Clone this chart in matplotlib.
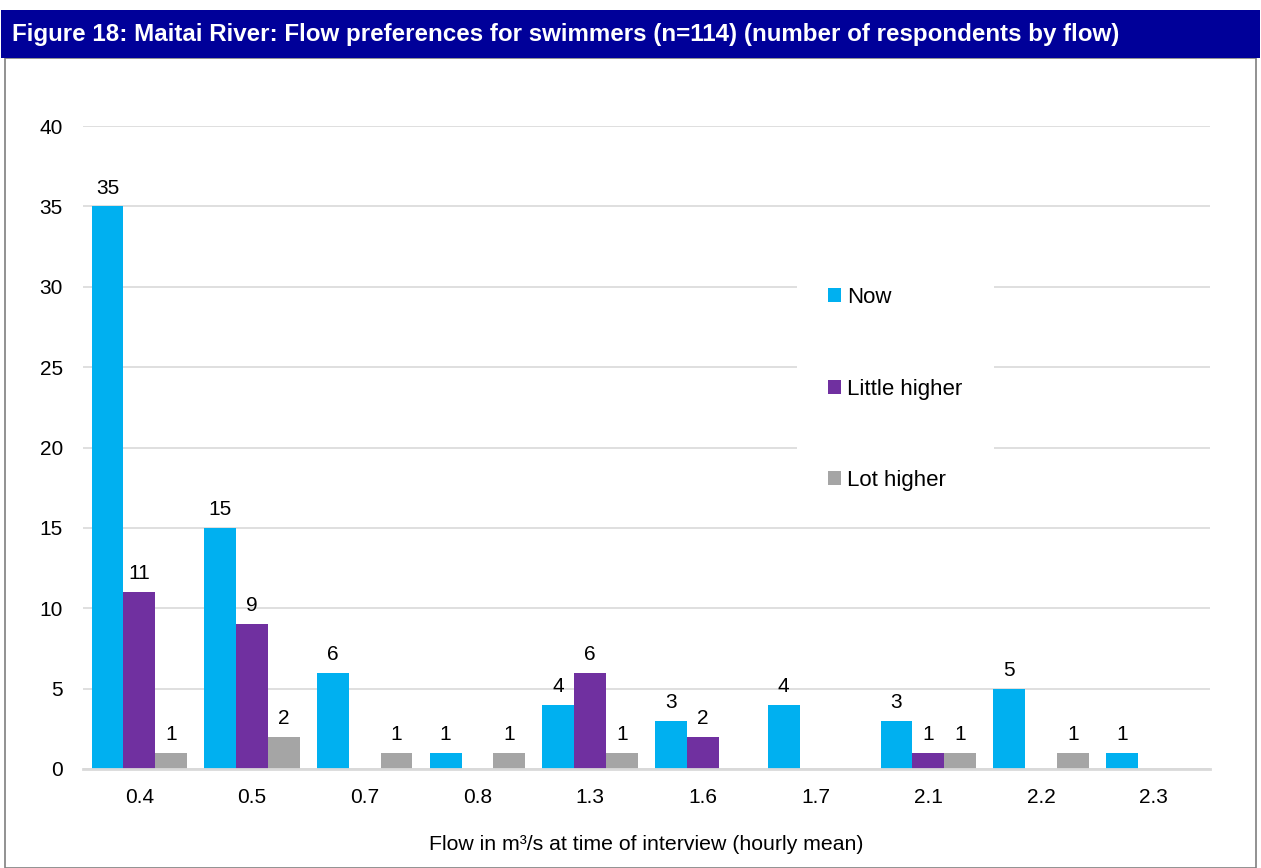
import numpy as np
import matplotlib.pyplot as plt
from matplotlib.patches import Rectangle

plt.rcParams['font.family'] = ['Liberation Sans', 'DejaVu Sans']

flows = ['0.4', '0.5', '0.7', '0.8', '1.3', '1.6', '1.7', '2.1', '2.2', '2.3']
now = [35, 15, 6, 1, 4, 3, 4, 3, 5, 1]
little = [11, 9, 0, 0, 6, 2, 0, 1, 0, 0]
lot = [1, 2, 1, 1, 1, 0, 0, 1, 1, 0]

series = [('Now', now, '#00B0F0'),
          ('Little higher', little, '#7030A0'),
          ('Lot higher', lot, '#A5A5A5')]

W, H = 1261, 868
fig = plt.figure(figsize=(W / 100, H / 100), dpi=100)

# title bar and frame
fig.patches.append(Rectangle((5 / W, 0), 1251 / W, 1 - 58 / H, transform=fig.transFigure,
                             facecolor='none', edgecolor='#7F7F7F', lw=1.2, zorder=0))
fig.patches.append(Rectangle((1 / W, 1 - 58 / H), 1259 / W, 48 / H, transform=fig.transFigure,
                             facecolor='#000099', edgecolor='none', zorder=1))
fig.text(12 / W, 1 - 34 / H, 'Figure 18: Maitai River: Flow preferences for swimmers (n=114) '
         '(number of respondents by flow)', color='white', fontsize=17.35,
         fontweight='bold', va='center', ha='left')

ax = fig.add_axes([83 / W, 1 - 769 / H, (1210 - 83) / W, (769 - 126) / H])
x = np.arange(len(flows))
bw = 0.282
for i, (name, vals, col) in enumerate(series):
    bars = ax.bar(x + (i - 1) * bw, vals, bw, color=col, label=name, zorder=2)
    for b, v in zip(bars, vals):
        if v > 0:
            ax.text(b.get_x() + b.get_width() / 2, v + 0.55, str(v),
                    ha='center', va='bottom', fontsize=15)

ax.set_xlim(-0.5, len(flows) - 0.5)
ax.set_ylim(0, 40)
ax.set_yticks(range(0, 41, 5))
ax.set_xticks(x)
ax.set_xticklabels(flows)
ax.tick_params(length=0, labelsize=15)
ax.tick_params(axis='x', pad=14)
ax.tick_params(axis='y', pad=14.5)
ax.grid(axis='y', color='#D9D9D9', lw=1.2, zorder=0)
for s in ['left', 'right', 'top']:
    ax.spines[s].set_visible(False)
ax.spines['bottom'].set_color('#D9D9D9')
ax.spines['bottom'].set_linewidth(2)
ax.set_xlabel('Flow in m³/s at time of interview (hourly mean)', fontsize=15.3, labelpad=20)

leg = ax.legend(loc='upper left', bbox_to_anchor=(797 / W, 1 - 256 / H),
                bbox_transform=fig.transFigure, frameon=True, facecolor='white',
                edgecolor='none', framealpha=1, fontsize=16, handlelength=0.59,
                handleheight=0.59, handletextpad=0.27, labelspacing=3.17,
                borderpad=1.4, borderaxespad=0, fancybox=False)
leg.set_zorder(5)

fig.savefig('out.png', dpi=100)
